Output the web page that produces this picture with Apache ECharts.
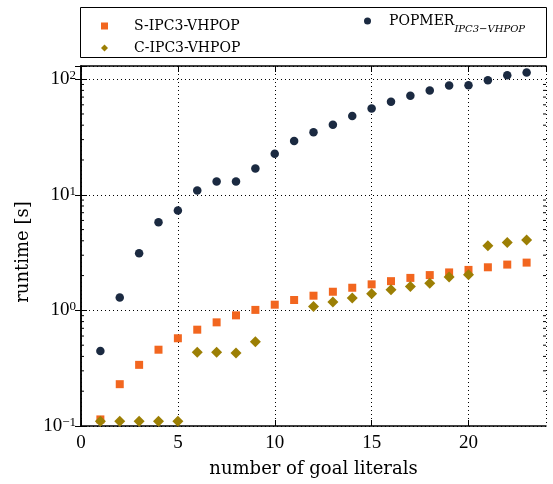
<!DOCTYPE html>
<html>
<head>
  <meta charset="utf-8">
  <script src="https://cdn.jsdelivr.net/npm/echarts@6/dist/echarts.min.js"></script>
</head>
<body style="margin:0">
  <div id="container" style="width:553px;height:484px"></div>
  <script type="text/javascript">
    // goal literal counts
    var goals = [1,2,3,4,5,6,7,8,9,10,11,12,13,14,15,16,17,18,19,20,21,22,23];
    // runtime [s]
    var sIpc3 = [0.114,0.23,0.338,0.457,0.574,0.681,0.788,0.906,1.01,1.12,1.23,1.34,1.45,1.57,1.68,1.79,1.91,2.02,2.13,2.24,2.36,2.49,2.59];
    var cIpc3 = [0.110,0.110,0.110,0.110,0.110,0.434,0.434,0.429,0.536,null,null,1.08,1.18,1.28,1.39,1.51,1.61,1.72,1.94,2.03,3.63,3.86,4.06];
    var popmer = [0.445,1.29,3.12,5.8,7.3,10.9,13.0,13.0,16.9,22.6,29.2,34.7,40.4,48,55.8,63.7,71.8,79.8,88,88.8,98,108,114];
    var minorTicks = [0.2,0.3,0.4,0.5,0.6,0.7,0.8,0.9,2,3,4,5,6,7,8,9,20,30,40,50,60,70,80,90];

    function pairs(ys) {
      var out = [];
      for (var i = 0; i < goals.length; i++) {
        if (ys[i] != null) out.push([goals[i], ys[i]]);
      }
      return out;
    }

    var font = 'DejaVu Serif';
    var numFont = 'Liberation Serif';
    var dom = document.getElementById('container');
    var myChart = echarts.init(dom, null, { renderer: 'canvas' });

    var option = {
      animation: false,
      textStyle: { fontFamily: font, color: '#000' },
      grid: { left: 81, right: 7, top: 66, bottom: 58 },
      graphic: [{
        type: 'rect',
        shape: { x: 80.5, y: 7.5, width: 466, height: 50 },
        style: { fill: 'none', stroke: '#000', lineWidth: 1 }
      }],
      legend: [{
        data: ['S-IPC3-VHPOP', 'C-IPC3-VHPOP'],
        orient: 'vertical',
        left: 96, top: 13,
        itemWidth: 7, itemHeight: 7, itemGap: 6,
        textStyle: { fontFamily: font, fontSize: 14, lineHeight: 16, color: '#000', padding: [0, 0, 0, 21] }
      }, {
        data: ['POPMER'],
        left: 359, top: 9,
        itemWidth: 7, itemHeight: 7,
        formatter: function () { return '{a|POPMER}{b|IPC3\u2212VHPOP}'; },
        textStyle: {
          fontFamily: font, color: '#000', padding: [0, 0, 0, 13],
          rich: {
            a: { fontFamily: font, fontSize: 14, lineHeight: 26, verticalAlign: 'middle' },
            b: { fontFamily: font, fontSize: 10, fontStyle: 'italic', lineHeight: 14, verticalAlign: 'bottom' }
          }
        }
      }],
      xAxis: [{
        type: 'value', min: 0, max: 24, interval: 5,
        name: 'number of goal literals', nameLocation: 'middle', nameGap: 34,
        nameTextStyle: { fontFamily: font, fontSize: 18, color: '#000' },
        axisLine: { lineStyle: { color: '#000', width: 1.5 } },
        axisTick: { inside: true, length: 6, lineStyle: { color: '#000' } },
        axisLabel: { fontFamily: numFont, fontSize: 19, color: '#000', margin: 8, showMaxLabel: false },
        splitLine: { show: true, lineStyle: { color: '#000', type: [1, 3], width: 1 } }
      }, {
        type: 'value', min: 0, max: 24, interval: 5, position: 'top',
        axisLine: { lineStyle: { color: '#000', width: 1.5 } },
        axisTick: { inside: true, length: 6, lineStyle: { color: '#000' } },
        axisLabel: { show: false }, splitLine: { show: false }
      }],
      yAxis: [{
        type: 'log', logBase: 10, min: 0.1, max: 130,
        name: 'runtime [s]', nameLocation: 'middle', nameGap: 47,
        nameTextStyle: { fontFamily: font, fontSize: 18, color: '#000', padding: [0, 12, 0, 0] },
        axisLine: { lineStyle: { color: '#000', width: 1.5 } },
        axisTick: { inside: true, length: 6, lineStyle: { color: '#000' } },
        axisLabel: {
          fontFamily: numFont, color: '#000', margin: 5,
          formatter: function (v) {
            var e = Math.round(Math.log10(v));
            if (Math.abs(Math.log10(v) - e) > 1e-6) return '';
            return '{m|10}{s|' + (e < 0 ? '\u2212' + (-e) : e) + '}';
          },
          rich: {
            m: { fontFamily: numFont, fontSize: 19, lineHeight: 20, verticalAlign: 'middle' },
            s: { fontFamily: numFont, fontSize: 13, lineHeight: 12, verticalAlign: 'top' }
          }
        },
        splitLine: { show: true, lineStyle: { color: '#000', type: [1, 3], width: 1 } }
      }, {
        type: 'log', logBase: 10, min: 0.1, max: 130, position: 'right',
        axisLine: { lineStyle: { color: '#000', width: 1.5 } },
        axisTick: { inside: true, length: 6, lineStyle: { color: '#000' } },
        axisLabel: { show: false }, splitLine: { show: false }
      }],
      series: [{
        type: 'custom', silent: true, z: 1,
        data: minorTicks.map(function (v) { return [0, v]; }),
        renderItem: function (params, api) {
          var l = api.coord([0, api.value(1)]);
          var r = api.coord([24, api.value(1)]);
          return {
            type: 'group',
            children: [
              { type: 'line', shape: { x1: l[0], y1: l[1], x2: l[0] + 3, y2: l[1] }, style: { stroke: '#000', lineWidth: 1 } },
              { type: 'line', shape: { x1: r[0], y1: r[1], x2: r[0] - 3, y2: r[1] }, style: { stroke: '#000', lineWidth: 1 } }
            ]
          };
        }
      }, {
        name: 'S-IPC3-VHPOP', type: 'scatter', symbol: 'rect', symbolSize: 8,
        itemStyle: { color: '#f2661f', opacity: 1 }, z: 3,
        data: pairs(sIpc3)
      }, {
        name: 'C-IPC3-VHPOP', type: 'scatter', symbol: 'diamond', symbolSize: 11,
        itemStyle: { color: '#9c7f04', opacity: 1 }, z: 4,
        data: pairs(cIpc3)
      }, {
        name: 'POPMER', type: 'scatter', symbol: 'circle', symbolSize: 8.5,
        itemStyle: { color: '#1b2a41', opacity: 1 }, z: 3,
        data: pairs(popmer)
      }]
    };

    myChart.setOption(option);
    window.addEventListener('resize', myChart.resize);
  </script>
</body>
</html>
